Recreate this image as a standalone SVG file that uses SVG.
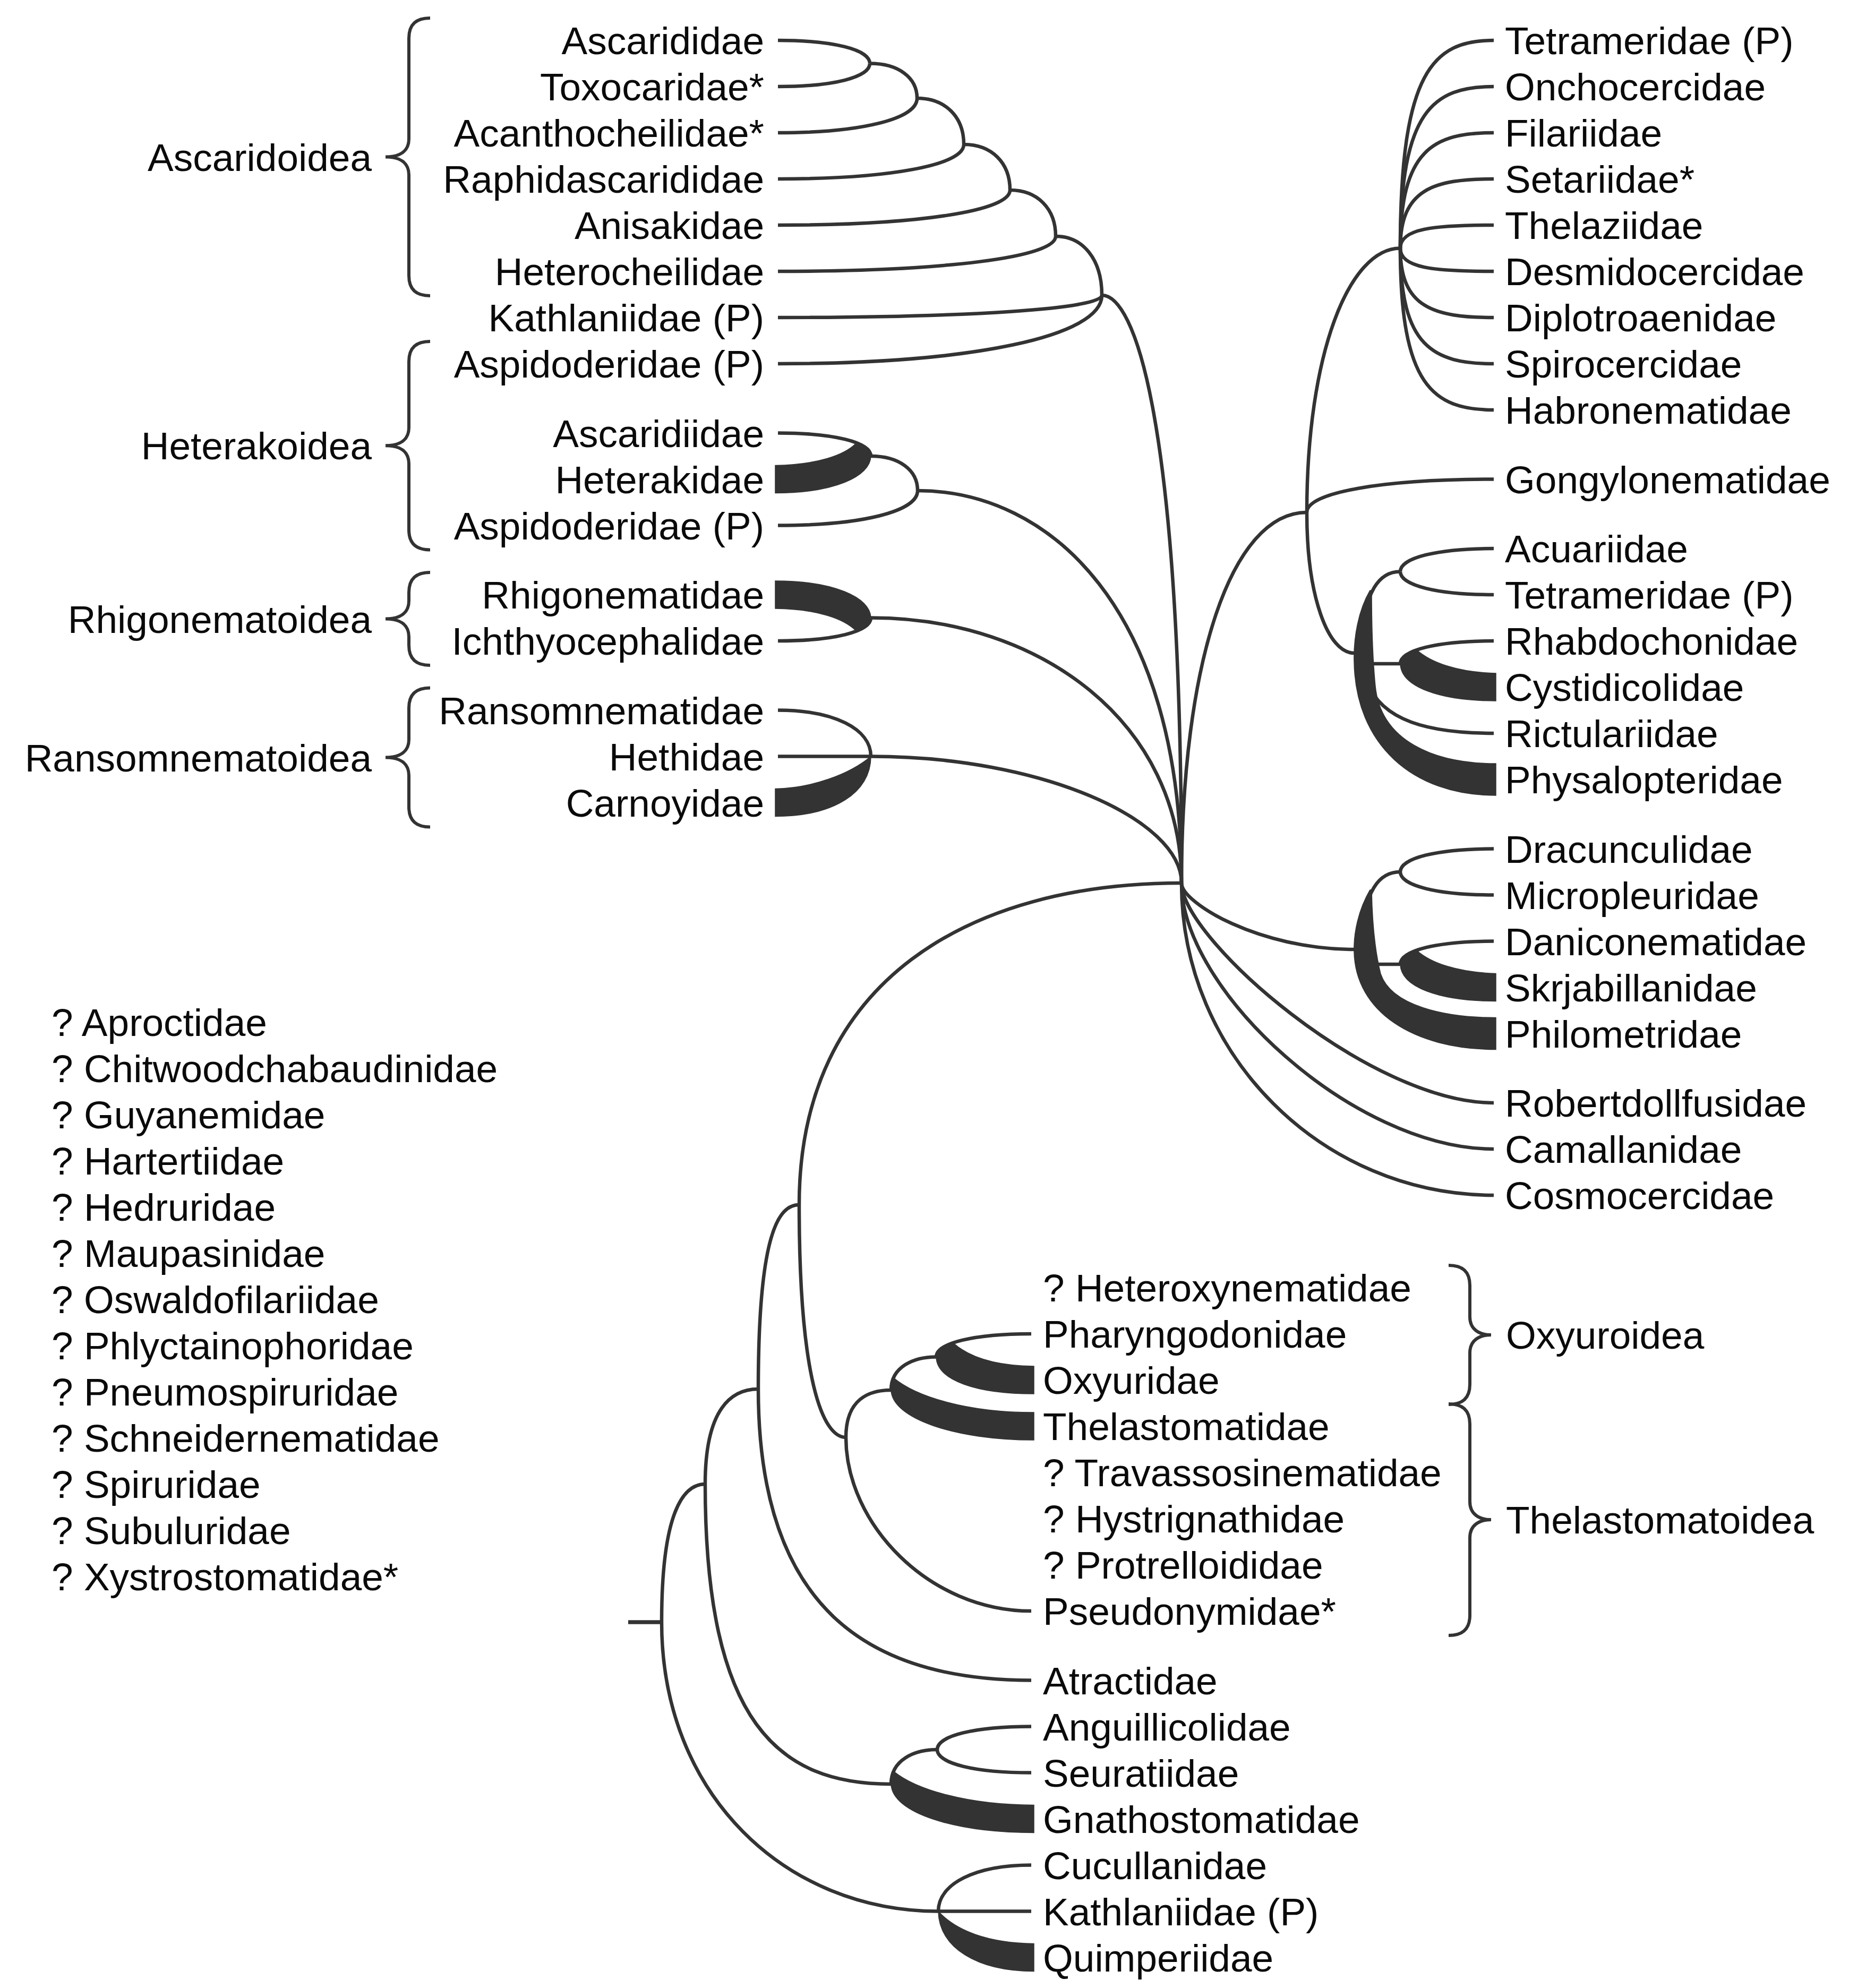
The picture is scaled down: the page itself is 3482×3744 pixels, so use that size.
<svg xmlns="http://www.w3.org/2000/svg" width="3482" height="3744" viewBox="0 0 3482 3744">
<style>
.e{fill:none;stroke:#333;stroke-width:6.5}
.w{fill:#333;stroke:#333;stroke-width:1.5}
.br{fill:none;stroke:#333;stroke-width:6}
text{font-family:"Liberation Sans",Arial,sans-serif;font-size:73px;fill:#0a0a0a}
.r{text-anchor:end}
</style>
<rect width="3482" height="3744" fill="#fff"/>
<g id="connectors">
<path class="e" d="M1638,119.5 C1638,93.4 1568.8,76 1465,76"/>
<path class="e" d="M1638,119.5 C1638,145.6 1568.8,163 1465,163"/>
<path class="e" d="M1727,185 C1727,145.7 1691.4,119.5 1638,119.5"/>
<path class="e" d="M1727,185 C1727,224 1622.2,250 1465,250"/>
<path class="e" d="M1815,272 C1815,219.8 1779.8,185 1727,185"/>
<path class="e" d="M1815,272 C1815,311 1675,337 1465,337"/>
<path class="e" d="M1902,358 C1902,306.4 1867.2,272 1815,272"/>
<path class="e" d="M1902,358 C1902,397.6 1727.2,424 1465,424"/>
<path class="e" d="M1988,445 C1988,392.8 1953.6,358 1902,358"/>
<path class="e" d="M1988,445 C1988,484.6 1778.8,511 1465,511"/>
<path class="e" d="M2075,556 C2075,489.4 2040.2,445 1988,445"/>
<path class="e" d="M2075,556 C2075,581.2 1831,598 1465,598"/>
<path class="e" d="M2075,556 C2075,633.4 1831,685 1465,685"/>
<path class="e" d="M1640,859 C1640,832.9 1570,815.5 1465,815.5"/>
<path class="w" d="M1640,859 C1639,898 1570,928.5 1460,928.5 L1460,876.5 C1540,875 1590,857 1612,835 C1630,840 1640,848 1640,859 Z"/>
<path class="e" d="M1728,924 C1728,885 1692.8,859 1640,859"/>
<path class="e" d="M1728,924 C1728,963.3 1622.8,989.5 1465,989.5"/>
<path class="e" d="M1640,1163.5 C1640,1189.6 1570,1207 1465,1207"/>
<path class="w" d="M1640,1163.5 C1639,1125 1570,1094 1460,1094 L1460,1146 C1540,1147 1590,1166 1612,1188 C1630,1183 1640,1175 1640,1163.5 Z"/>
<path class="e" d="M1640,1424.5 C1640,1372.3 1570,1337.5 1465,1337.5"/>
<path class="e" d="M1465,1424.5 L1640,1424.5"/>
<path class="w" d="M1640,1424.5 C1640,1493 1570,1537.5 1460,1537.5 L1460,1485.5 C1530,1484 1600,1458 1640,1424.5 Z"/>
<path class="e" d="M2225,1663 C2225,777.4 2135,556 2075,556"/>
<path class="e" d="M2225,1663 C2225,1145.7 1976.5,924 1728,924"/>
<path class="e" d="M2225,1663 C2225,1363.3 1961.8,1163.5 1640,1163.5"/>
<path class="e" d="M2225,1663 C2225,1543.8 1961.8,1424.5 1640,1424.5"/>
<path class="e" d="M2225,1663 C2225,1244.2 2319.4,965 2461,965"/>
<path class="e" d="M2225,1663 C2225,1700.5 2371.3,1788 2550,1788"/>
<path class="e" d="M2225,1663 C2225,1766.5 2577.8,2077 2813,2077"/>
<path class="e" d="M2225,1663 C2225,1863.4 2548.4,2164 2813,2164"/>
<path class="e" d="M2225,1663 C2225,1986.4 2489.6,2251 2813,2251"/>
<path class="e" d="M1505,2269 C1505,1844.8 1829,1663 2225,1663"/>
<path class="e" d="M2461,965 C2461,666.5 2540.2,467.5 2637,467.5"/>
<path class="e" d="M2461,965 C2461,927.5 2601.8,902.5 2813,902.5"/>
<path class="e" d="M2461,965 C2461,1124 2501,1230 2550,1230 L2565,1230"/>
<path class="e" d="M2637,467.5 C2637,134.7 2698.6,76 2813,76"/>
<path class="e" d="M2637,467.5 C2637,208.7 2698.6,163 2813,163"/>
<path class="e" d="M2637,467.5 C2637,282.6 2698.6,250 2813,250"/>
<path class="e" d="M2637,467.5 C2637,356.6 2698.6,337 2813,337"/>
<path class="e" d="M2637,467.5 C2637,430.5 2698.6,424 2813,424"/>
<path class="e" d="M2637,467.5 C2637,504.5 2698.6,511 2813,511"/>
<path class="e" d="M2637,467.5 C2637,578.4 2698.6,598 2813,598"/>
<path class="e" d="M2637,467.5 C2637,652.4 2698.6,685 2813,685"/>
<path class="e" d="M2637,467.5 C2637,726.3 2698.6,772 2813,772"/>
<path class="e" d="M2565,1230 C2565,1107.2 2601,1076.5 2637,1076.5"/>
<path class="e" d="M2637,1076.5 C2637,1050.4 2707.4,1033 2813,1033"/>
<path class="e" d="M2637,1076.5 C2637,1102.6 2707.4,1120 2813,1120"/>
<path class="e" d="M2565,1250 L2637,1250"/>
<path class="e" d="M2637,1250 C2637,1224.2 2707.4,1207 2813,1207"/>
<path class="w" d="M2637,1250 C2638,1293 2710,1320 2817,1320 L2817,1268 C2745,1266 2695,1248 2668,1224 C2650,1231 2638,1240 2637,1250 Z"/>
<path class="e" d="M2565,1230 C2565,1358.4 2689,1381 2813,1381"/>
<path class="w" d="M2580,1112 C2558,1150 2549,1200 2550,1245 C2552,1402 2660,1498 2817,1498 L2817,1438 C2700,1438 2600,1395 2590,1292 C2584,1232 2583,1165 2583,1112 Z"/>
<path class="e" d="M2550,1788 L2565,1788 C2565,1671.2 2601,1642 2637,1642"/>
<path class="e" d="M2637,1642 C2637,1615.9 2707.4,1598.5 2813,1598.5"/>
<path class="e" d="M2637,1642 C2637,1668.1 2707.4,1685.5 2813,1685.5"/>
<path class="e" d="M2565,1816 L2637,1816"/>
<path class="e" d="M2637,1816 C2637,1789.9 2707.4,1772.5 2813,1772.5"/>
<path class="w" d="M2637,1816 C2638,1859 2710,1885.5 2817,1885.5 L2817,1833.5 C2745,1831 2695,1814 2668,1790 C2650,1797 2638,1806 2637,1816 Z"/>
<path class="w" d="M2580,1676 C2558,1714 2549,1757 2550,1792 C2552,1904 2660,1976.5 2817,1976.5 L2817,1916.5 C2720,1916.5 2620,1894 2600,1834 C2590,1794 2584,1735 2583,1676 Z"/>
<path class="e" d="M1505,2269 C1505,2597.5 1549,2707 1593,2707"/>
<path class="e" d="M1593,2707 C1593,2635.8 1635.5,2618 1678,2618"/>
<path class="e" d="M1593,2707 C1593,2870.5 1750,3034 1942,3034"/>
<path class="e" d="M1678,2618 C1678,2574.3 1720.5,2555.5 1763,2555.5"/>
<path class="e" d="M1763,2555.5 C1763,2529.4 1834.6,2512 1942,2512"/>
<path class="w" d="M1763,2555.5 C1764,2600 1840,2625 1947,2625 L1947,2573 C1875,2572 1825,2556 1795,2529 C1778,2536 1764,2546 1763,2555.5 Z"/>
<path class="w" d="M1678,2618 C1680,2672 1800,2712 1947,2712 L1947,2660 C1820,2660 1725,2630 1683,2595 C1679,2603 1678,2611 1678,2618 Z"/>
<path class="e" d="M1428,2616 C1428,2321 1466.5,2269 1505,2269"/>
<path class="e" d="M1428,2616 C1428,3027.4 1633.6,3164.5 1942,3164.5"/>
<path class="e" d="M1328,2795 C1328,2651.8 1378,2616 1428,2616"/>
<path class="e" d="M1328,2795 C1328,3247 1468,3360 1678,3360"/>
<path class="e" d="M1246,3055 C1246,2847 1287,2795 1328,2795"/>
<path class="e" d="M1246,3055 C1246,3380.8 1480.4,3599.5 1767,3599.5"/>
<path class="e" style="stroke-width:7.5" d="M1183,3055 L1248,3055"/>
<path class="e" d="M1678,3360 C1678,3314.5 1721.5,3295 1765,3295"/>
<path class="e" d="M1765,3295 C1765,3268.9 1835.8,3251.5 1942,3251.5"/>
<path class="e" d="M1765,3295 C1765,3321.1 1835.8,3338.5 1942,3338.5"/>
<path class="w" d="M1678,3360 C1680,3415 1800,3451.5 1947,3451.5 L1947,3399.5 C1820,3399 1725,3370 1683,3336 C1679,3344 1678,3352 1678,3360 Z"/>
<path class="e" d="M1767,3599.5 C1767,3547.3 1837,3512.5 1942,3512.5"/>
<path class="e" d="M1767,3599.5 L1942,3599.5"/>
<path class="w" d="M1767,3599.5 C1768,3668 1840,3712.5 1947,3712.5 L1947,3660.5 C1860,3659 1800,3636 1767,3599.5 Z"/>
</g>
<g id="braces">
<path class="br" d="M810,34 C786,34 770,44 770,72 L770,261.5 C770,285.5 752,295.5 726,295.5 C752,295.5 770,305.5 770,329.5 L770,519 C770,547 786,557 810,557"/>
<path class="br" d="M810,643 C786,643 770,653 770,681 L770,805.25 C770,829.25 752,839.25 726,839.25 C752,839.25 770,849.25 770,873.25 L770,997.5 C770,1025.5 786,1035.5 810,1035.5"/>
<path class="br" d="M810,1078 C786,1078 770,1088 770,1116 L770,1131.5 C770,1155.5 752,1165.5 726,1165.5 C752,1165.5 770,1175.5 770,1199.5 L770,1215 C770,1243 786,1253 810,1253"/>
<path class="br" d="M810,1295.5 C786,1295.5 770,1305.5 770,1333.5 L770,1392.5 C770,1416.5 752,1426.5 726,1426.5 C752,1426.5 770,1436.5 770,1460.5 L770,1519.5 C770,1547.5 786,1557.5 810,1557.5"/>
<path class="br" d="M2728,2383 C2752,2383 2768,2393 2768,2421 L2768,2480 C2768,2504 2786,2514 2808,2514 C2786,2514 2768,2524 2768,2548 L2768,2607 C2768,2635 2752,2645 2728,2645"/>
<path class="br" d="M2728,2644 C2752,2644 2768,2654 2768,2682 L2768,2828 C2768,2852 2786,2862 2808,2862 C2786,2862 2768,2872 2768,2896 L2768,3042 C2768,3070 2752,3080 2728,3080"/>
</g>
<g id="groups">
<text class="r" x="700" y="321.5">Ascaridoidea</text>
<text class="r" x="700" y="865.25">Heterakoidea</text>
<text class="r" x="700" y="1191.5">Rhigonematoidea</text>
<text class="r" x="700" y="1452.5">Ransomnematoidea</text>
<text x="2836" y="2540">Oxyuroidea</text>
<text x="2836" y="2888">Thelastomatoidea</text>
</g>
<g id="left-taxa" class="r">
<g id="n-ascarididae"><text class="r" x="1439" y="102">Ascarididae</text></g>
<g id="n-toxocaridae"><text class="r" x="1439" y="189">Toxocaridae*</text></g>
<g id="n-acanthocheilidae"><text class="r" x="1439" y="276">Acanthocheilidae*</text></g>
<g id="n-raphidascarididae"><text class="r" x="1439" y="363">Raphidascarididae</text></g>
<g id="n-anisakidae"><text class="r" x="1439" y="450">Anisakidae</text></g>
<g id="n-heterocheilidae"><text class="r" x="1439" y="537">Heterocheilidae</text></g>
<g id="n-kathlaniidae1"><text class="r" x="1439" y="624">Kathlaniidae (P)</text></g>
<g id="n-aspidoderidae1"><text class="r" x="1439" y="711">Aspidoderidae (P)</text></g>
<g id="n-ascaridiidae"><text class="r" x="1439" y="841.5">Ascaridiidae</text></g>
<g id="n-heterakidae"><text class="r" x="1439" y="928.5">Heterakidae</text></g>
<g id="n-aspidoderidae2"><text class="r" x="1439" y="1015.5">Aspidoderidae (P)</text></g>
<g id="n-rhigonematidae"><text class="r" x="1439" y="1146">Rhigonematidae</text></g>
<g id="n-ichthyocephalidae"><text class="r" x="1439" y="1233">Ichthyocephalidae</text></g>
<g id="n-ransomnematidae"><text class="r" x="1439" y="1363.5">Ransomnematidae</text></g>
<g id="n-hethidae"><text class="r" x="1439" y="1450.5">Hethidae</text></g>
<g id="n-carnoyidae"><text class="r" x="1439" y="1537.5">Carnoyidae</text></g>
</g>
<g id="right-taxa">
<g id="n-tetrameridae1"><text x="2834" y="102">Tetrameridae (P)</text></g>
<g id="n-onchocercidae"><text x="2834" y="189">Onchocercidae</text></g>
<g id="n-filariidae"><text x="2834" y="276">Filariidae</text></g>
<g id="n-setariidae"><text x="2834" y="363">Setariidae*</text></g>
<g id="n-thelaziidae"><text x="2834" y="450">Thelaziidae</text></g>
<g id="n-desmidocercidae"><text x="2834" y="537">Desmidocercidae</text></g>
<g id="n-diplotroaenidae"><text x="2834" y="624">Diplotroaenidae</text></g>
<g id="n-spirocercidae"><text x="2834" y="711">Spirocercidae</text></g>
<g id="n-habronematidae"><text x="2834" y="798">Habronematidae</text></g>
<g id="n-gongylonematidae"><text x="2834" y="928.5">Gongylonematidae</text></g>
<g id="n-acuariidae"><text x="2834" y="1059">Acuariidae</text></g>
<g id="n-tetrameridae2"><text x="2834" y="1146">Tetrameridae (P)</text></g>
<g id="n-rhabdochonidae"><text x="2834" y="1233">Rhabdochonidae</text></g>
<g id="n-cystidicolidae"><text x="2834" y="1320">Cystidicolidae</text></g>
<g id="n-rictulariidae"><text x="2834" y="1407">Rictulariidae</text></g>
<g id="n-physalopteridae"><text x="2834" y="1494">Physalopteridae</text></g>
<g id="n-dracunculidae"><text x="2834" y="1624.5">Dracunculidae</text></g>
<g id="n-micropleuridae"><text x="2834" y="1711.5">Micropleuridae</text></g>
<g id="n-daniconematidae"><text x="2834" y="1798.5">Daniconematidae</text></g>
<g id="n-skrjabillanidae"><text x="2834" y="1885.5">Skrjabillanidae</text></g>
<g id="n-philometridae"><text x="2834" y="1972.5">Philometridae</text></g>
<g id="n-robertdollfusidae"><text x="2834" y="2103">Robertdollfusidae</text></g>
<g id="n-camallanidae"><text x="2834" y="2190">Camallanidae</text></g>
<g id="n-cosmocercidae"><text x="2834" y="2277">Cosmocercidae</text></g>
</g>
<g id="middle-taxa">
<g id="n-heteroxynematidae"><text x="1964" y="2451">? Heteroxynematidae</text></g>
<g id="n-pharyngodonidae"><text x="1964" y="2538">Pharyngodonidae</text></g>
<g id="n-oxyuridae"><text x="1964" y="2625">Oxyuridae</text></g>
<g id="n-thelastomatidae"><text x="1964" y="2712">Thelastomatidae</text></g>
<g id="n-travassosinematidae"><text x="1964" y="2799">? Travassosinematidae</text></g>
<g id="n-hystrignathidae"><text x="1964" y="2886">? Hystrignathidae</text></g>
<g id="n-protrelloididae"><text x="1964" y="2973">? Protrelloididae</text></g>
<g id="n-pseudonymidae"><text x="1964" y="3060">Pseudonymidae*</text></g>
<g id="n-atractidae"><text x="1964" y="3190.5">Atractidae</text></g>
<g id="n-anguillicolidae"><text x="1964" y="3277.5">Anguillicolidae</text></g>
<g id="n-seuratiidae"><text x="1964" y="3364.5">Seuratiidae</text></g>
<g id="n-gnathostomatidae"><text x="1964" y="3451.5">Gnathostomatidae</text></g>
<g id="n-cucullanidae"><text x="1964" y="3538.5">Cucullanidae</text></g>
<g id="n-kathlaniidae2"><text x="1964" y="3625.5">Kathlaniidae (P)</text></g>
<g id="n-quimperiidae"><text x="1964" y="3712.5">Quimperiidae</text></g>
</g>
<g id="unplaced">
<text x="97" y="1950.75">? Aproctidae</text>
<text x="97" y="2037.75">? Chitwoodchabaudinidae</text>
<text x="97" y="2124.75">? Guyanemidae</text>
<text x="97" y="2211.75">? Hartertiidae</text>
<text x="97" y="2298.75">? Hedruridae</text>
<text x="97" y="2385.75">? Maupasinidae</text>
<text x="97" y="2472.75">? Oswaldofilariidae</text>
<text x="97" y="2559.75">? Phlyctainophoridae</text>
<text x="97" y="2646.75">? Pneumospiruridae</text>
<text x="97" y="2733.75">? Schneidernematidae</text>
<text x="97" y="2820.75">? Spiruridae</text>
<text x="97" y="2907.75">? Subuluridae</text>
<text x="97" y="2994.75">? Xystrostomatidae*</text>
</g>
</svg>
